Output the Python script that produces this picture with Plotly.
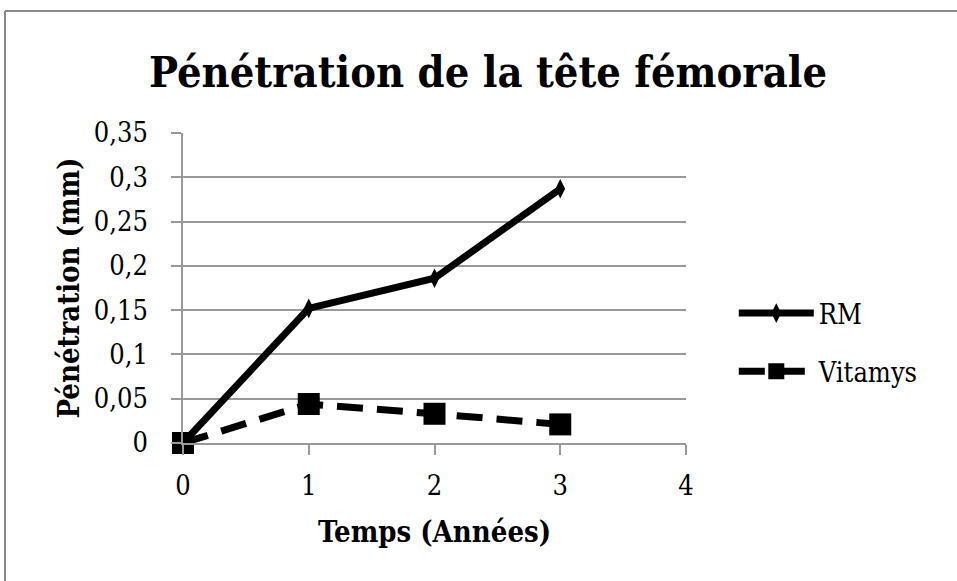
import plotly.graph_objects as go

years = [0, 1, 2, 3]
rm_values = [0.0, 0.152, 0.186, 0.287]
vitamys_values = [0.0, 0.044, 0.033, 0.021]
y_ticks = [0, 0.05, 0.1, 0.15, 0.2, 0.25, 0.3, 0.35]
y_tick_labels = ["0", "0,05", "0,1", "0,15", "0,2", "0,25", "0,3", "0,35"]
x_ticks = [0, 1, 2, 3, 4]

SERIF = "DejaVu Serif Condensed, Liberation Serif, serif"

fig = go.Figure()
fig.add_trace(go.Scatter(
    x=years, y=rm_values, name="RM", mode="lines+markers", legendgroup="a",
    line=dict(color="black", width=7),
    marker=dict(symbol="diamond-tall", size=14, color="black"),
    cliponaxis=False,
))
fig.add_trace(go.Scatter(
    x=years, y=vitamys_values, name="Vitamys", mode="lines+markers", legendgroup="b",
    line=dict(color="black", width=7, dash="26px,14px"),
    marker=dict(symbol="square", size=22, color="black"),
    cliponaxis=False,
))

fig.update_layout(
    width=957, height=581,
    margin=dict(l=183, r=271, t=133, b=138),
    paper_bgcolor="white", plot_bgcolor="white",
    title=dict(text="<b>Pénétration de la tête fémorale</b>", x=0.51, xanchor="center",
               y=1 - 72 / 581, yanchor="middle",
               font=dict(family=SERIF, size=43, color="black")),
    font=dict(family=SERIF, color="black"),
    legend=dict(x=1.095, xanchor="left", y=0.324, yanchor="middle",
                font=dict(family=SERIF, size=27, color="black"),
                tracegroupgap=20, itemwidth=75,
                bgcolor="rgba(0,0,0,0)"),
    showlegend=True,
)
fig.update_xaxes(
    range=[0, 4], tickvals=x_ticks, showgrid=False, zeroline=False,
    showline=True, linecolor="#999999", linewidth=1.5,
    ticks="outside", ticklen=10, tickcolor="#999999", tickwidth=1.5,
    ticklabelstandoff=8,
    tickfont=dict(family=SERIF, size=27, color="black"),
    title=dict(text="<b>Temps (Années)</b>", font=dict(family=SERIF, size=29, color="black"), standoff=22),
)
fig.update_yaxes(
    range=[0, 0.35], tickvals=y_ticks, ticktext=y_tick_labels,
    showgrid=True, gridcolor="#999999", gridwidth=1.5, zeroline=False,
    showline=True, linecolor="#999999", linewidth=1.5,
    ticks="outside", ticklen=10, tickcolor="#999999", tickwidth=1.5,
    ticklabelstandoff=18,
    tickfont=dict(family=SERIF, size=27, color="black"),
    title=dict(text="<b>Pénétration (mm)</b>", font=dict(family=SERIF, size=29, color="black"), standoff=6),
)
# outer frame (only left and top edges visible in the reference)
fig.add_shape(type="line", xref="paper", yref="paper",
              x0=-178 / 503, x1=-178 / 503, y0=-0.5, y1=1 + 122 / 310,
              line=dict(color="#888888", width=2))
fig.add_shape(type="line", xref="paper", yref="paper",
              x0=-178 / 503, x1=1.6, y0=1 + 122 / 310, y1=1 + 122 / 310,
              line=dict(color="#888888", width=2))

fig.write_html("out.html", config={"displayModeBar": False},
               post_script="document.body.style.margin='0';")
